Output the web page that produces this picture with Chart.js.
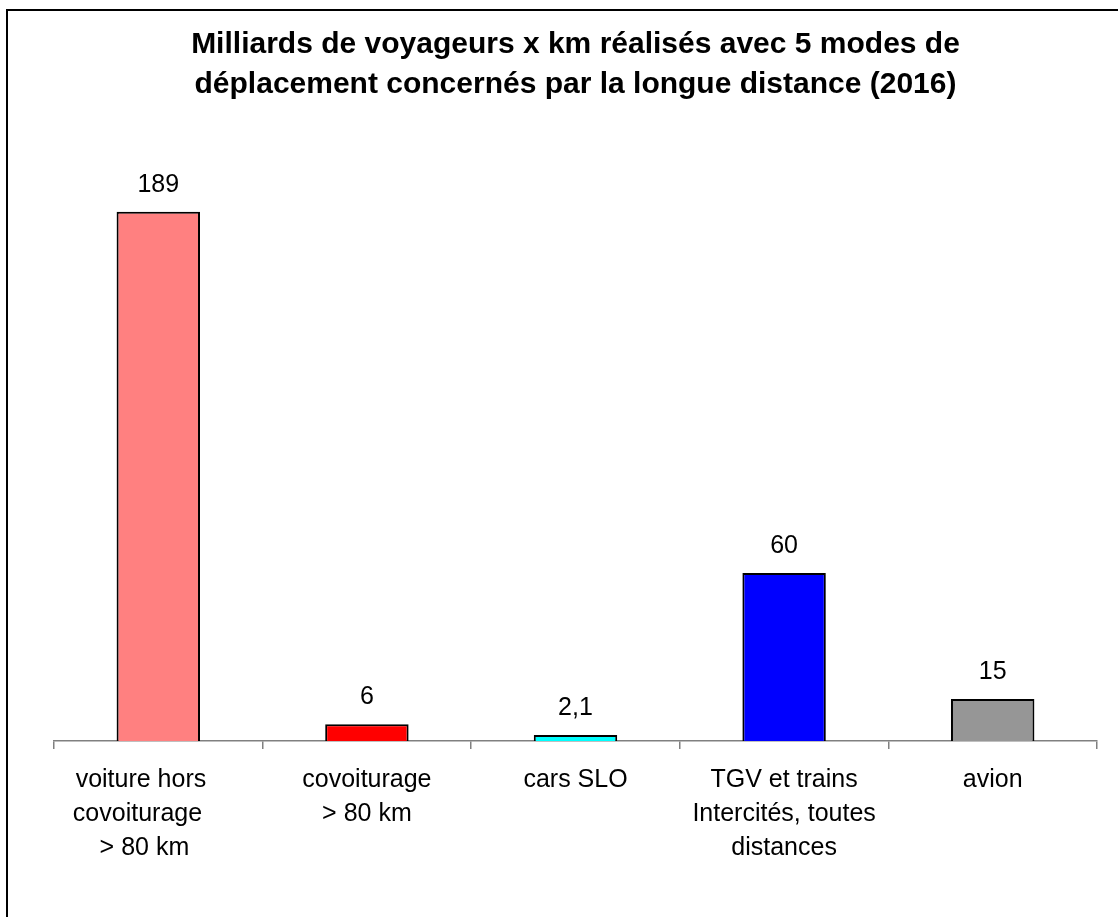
<!DOCTYPE html>
<html>
<head>
<meta charset="utf-8">
<script src="https://cdn.jsdelivr.net/npm/chart.js@4"></script>
<style>
  html, body { margin: 0; padding: 0; background: #fff; }
  #wrap { width: 1118px; height: 917px; }
</style>
</head>
<body>
<div id="wrap"><canvas id="modesChart" width="1118" height="917"></canvas></div>
<script>
// données
// (espaces en fin de ligne : la 1re étiquette est décalée vers la gauche dans l'original)
const categories = [
    ['voiture hors     ', 'covoiturage      ', '> 80 km    '],
    ['covoiturage', '> 80 km'],
    ['cars SLO'],
    ['TGV et trains', 'Intercités, toutes', 'distances'],
    ['avion']
];
const valeurs = [189, 6, 2.1, 60, 15];
const couleurs = ['#FF8080', '#FF0000', '#00FFFF', '#0000FF', '#969696'];

const FONT = '"Liberation Sans", Arial, sans-serif';

// cadre autour du graphique
const cadre = {
    id: 'cadre',
    beforeDraw(chart) {
        const c = chart.ctx;
        c.save();
        c.fillStyle = '#fff';
        c.fillRect(0, 0, chart.width, chart.height);
        c.strokeStyle = '#000';
        c.lineWidth = 2;
        c.strokeRect(7, 10, chart.width + 20, chart.height + 20);
        c.restore();
    }
};

// valeurs au-dessus des barres
const etiquettes = {
    id: 'etiquettes',
    afterDatasetsDraw(chart) {
        const c = chart.ctx;
        const meta = chart.getDatasetMeta(0);
        c.save();
        c.font = '25px ' + FONT;
        c.fillStyle = '#000';
        c.textAlign = 'center';
        c.textBaseline = 'alphabetic';
        meta.data.forEach((bar, i) => {
            const txt = String(valeurs[i]).replace('.', ',');
            c.fillText(txt, bar.x, bar.y - 20);
        });
        c.restore();
    }
};

const ctx = document.getElementById('modesChart').getContext('2d');
new Chart(ctx, {
    type: 'bar',
    data: {
        labels: categories,
        datasets: [{
            data: valeurs,
            backgroundColor: couleurs,
            borderColor: '#000',
            borderWidth: 2,
            barPercentage: 0.4,
            categoryPercentage: 1
        }]
    },
    options: {
        responsive: false,
        animation: false,
        layout: { padding: { left: 54, right: 21, top: 0, bottom: 0 } },
        plugins: {
            legend: { display: false },
            tooltip: { enabled: false },
            title: {
                display: true,
                text: ['Milliards de voyageurs x km réalisés avec 5 modes de',
                       'déplacement concernés par la longue distance (2016)'],
                color: '#000',
                font: { family: FONT, size: 30, weight: 'bold', lineHeight: 1.333 },
                padding: { top: 25, bottom: 76 }
            }
        },
        scales: {
            x: {
                grid: {
                    offset: true,
                    drawOnChartArea: false,
                    tickLength: 8,
                    color: '#808080',
                    lineWidth: 1.5
                },
                border: { color: '#808080', width: 1.5 },
                ticks: {
                    color: '#000',
                    font: { family: FONT, size: 25, lineHeight: 1.36 },
                    padding: 14,
                    maxRotation: 0,
                    autoSkip: false
                },
                afterFit(scale) { scale.height = 176; }
            },
            y: {
                display: false,
                min: 0,
                max: 200
            }
        }
    },
    plugins: [cadre, etiquettes]
});
</script>
</body>
</html>
